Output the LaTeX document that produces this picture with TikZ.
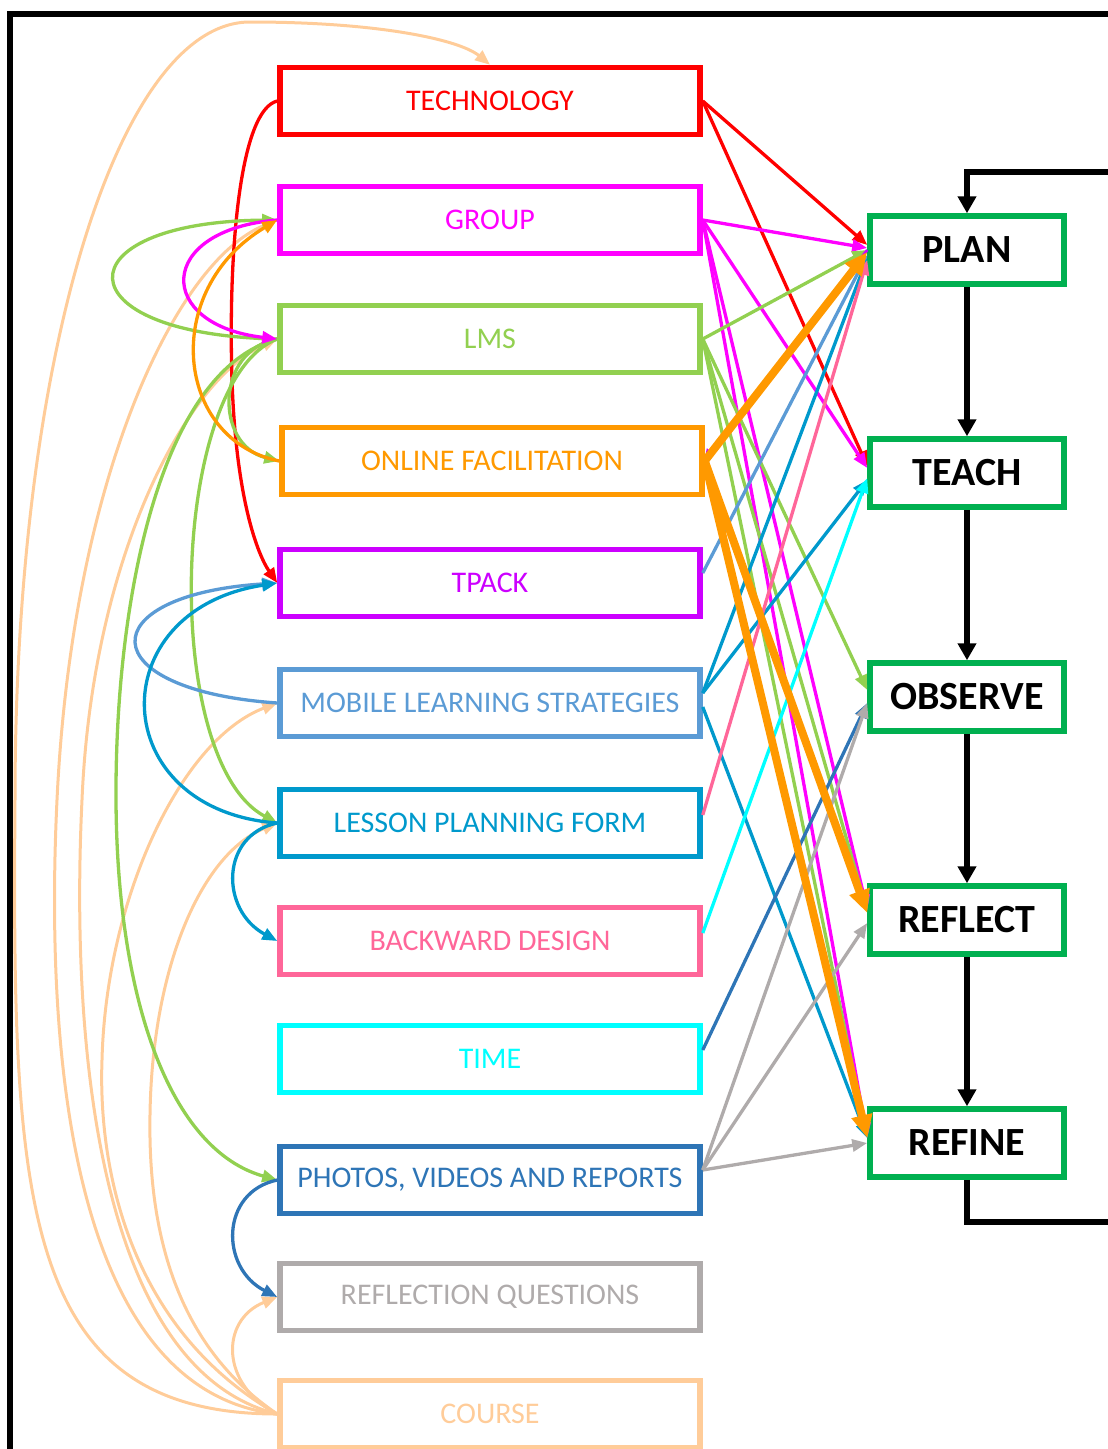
\documentclass[tikz,border=0pt]{standalone}
\usepackage{fontspec}
\setmainfont{Carlito}
\usetikzlibrary{arrows.meta}

\definecolor{cTech}{HTML}{FF0000}
\definecolor{cGroup}{HTML}{FF00FF}
\definecolor{cLms}{HTML}{92D050}
\definecolor{cOnline}{HTML}{FF9900}
\definecolor{cTpack}{HTML}{CC00FF}
\definecolor{cMobile}{HTML}{5B9BD5}
\definecolor{cLesson}{HTML}{0099CC}
\definecolor{cBackward}{HTML}{FF6699}
\definecolor{cTime}{HTML}{00FFFF}
\definecolor{cPhotos}{HTML}{2E75B6}
\definecolor{cReflq}{HTML}{AFABAB}
\definecolor{cCourse}{HTML}{FFCC99}
\definecolor{cStage}{HTML}{00B050}

\tikzset{
  factor/.style={draw, line width=5.5pt, minimum width=420pt, minimum height=67pt,
    inner sep=0pt, font=\fontsize{30}{33}\selectfont},
  stage/.style={draw=cStage, line width=5.5pt, minimum width=194pt, minimum height=68pt,
    inner sep=0pt, font=\fontsize{40}{42}\selectfont\bfseries},
  curve/.style={line width=3.3pt, -{Triangle[length=15pt,width=12pt]}},
  link/.style={line width=3.3pt, -{Triangle[length=15pt,width=12pt]}},
  heavylink/.style={line width=8pt, -{Triangle[length=23pt,width=20pt]}},
  cyclearrow/.style={line width=5.5pt, -{Triangle[length=17pt,width=18pt]}},
}

\begin{document}
\begin{tikzpicture}[x=1pt,y=-1pt]
\useasboundingbox (0,0) rectangle (1108,1449);
\clip (0,0) rectangle (1108,1449);

% outer frame
\draw[line width=6pt] (10,1500) -- (10,14) -- (1150,14);

% factor boxes
\node[factor, draw=cTech, text=cTech]         (tech)     at (490,101)  {TECHNOLOGY};
\node[factor, draw=cGroup, text=cGroup]       (group)    at (490,220)  {GROUP};
\node[factor, draw=cLms, text=cLms]           (lms)      at (490,339)  {LMS};
\node[factor, draw=cOnline, text=cOnline]     (online)   at (492,461)  {ONLINE FACILITATION};
\node[factor, draw=cTpack, text=cTpack]       (tpack)    at (490,583)  {TPACK};
\node[factor, draw=cMobile, text=cMobile]     (mobile)   at (490,703)  {MOBILE LEARNING STRATEGIES};
\node[factor, draw=cLesson, text=cLesson]     (lesson)   at (490,823)  {LESSON PLANNING FORM};
\node[factor, draw=cBackward, text=cBackward] (backward) at (490,941)  {BACKWARD DESIGN};
\node[factor, draw=cTime, text=cTime]         (time)     at (490,1059) {TIME};
\node[factor, draw=cPhotos, text=cPhotos]     (photos)   at (490,1180) {PHOTOS, VIDEOS AND REPORTS};
\node[factor, draw=cReflq, text=cReflq]       (reflq)    at (490,1297) {REFLECTION QUESTIONS};
\node[factor, draw=cCourse, text=cCourse]     (course)   at (490,1414) {COURSE};

% cycle stages
\node[stage] (plan)    at (967,250)  {PLAN};
\node[stage] (teach)   at (967,473)  {TEACH};
\node[stage] (observe) at (967,697)  {OBSERVE};
\node[stage] (reflect) at (967,920)  {REFLECT};
\node[stage] (refine)  at (967,1143) {REFINE};

% cycle arrows
\draw[cyclearrow] (plan) -- (teach);
\draw[cyclearrow] (teach) -- (observe);
\draw[cyclearrow] (observe) -- (reflect);
\draw[cyclearrow] (reflect) -- (refine);
\draw[cyclearrow] (refine.south) |- (1130,1222) |- (967,172) -- (plan.north);

% curved links on the left: from COURSE
\draw[curve, cCourse, line width=3pt] (course.west) .. controls (20,1414) and (12,1200) .. (15,800)
  .. controls (15,350) and (120,22) .. (250,22) .. controls (380,22) and (460,40) .. (tech.north);
\draw[curve, cCourse, line width=3pt] (course.west) .. controls (70,1390) and (45,1050) .. (57,800)
  .. controls (72,480) and (175,262) .. (group.west);
\draw[curve, cCourse, line width=3pt] (course.west) .. controls (100,1370) and (70,1050) .. (82,800)
  .. controls (92,560) and (185,380) .. (lms.west);
\draw[curve, cCourse, line width=3pt] (course.west) .. controls (130,1330) and (98,1170) .. (102,1060)
  .. controls (106,900) and (180,740) .. (mobile.west);
\draw[curve, cCourse, line width=3pt] (course.west) .. controls (175,1345) and (148,1230) .. (150,1115)
  .. controls (152,970) and (200,855) .. (lesson.west);
\draw[curve, cCourse, line width=3pt] (course.west) .. controls (220,1385) and (220,1320) .. (reflq.west);

% curved links on the left: between factors
\draw[curve, cTech] (tech.west) .. controls (240,110) and (228,250) .. (232,380)
  .. controls (236,500) and (258,555) .. (tpack.west);
\draw[curve, cLms] (lms.west) .. controls (60,335) and (60,222) .. (group.west);
\draw[curve, cLms] (lms.west) .. controls (215,350) and (215,445) .. (online.west);
\draw[curve, cLms] (lms.west) .. controls (170,380) and (160,760) .. (lesson.west);
\draw[curve, cLms] (lms.west) .. controls (160,370) and (115,600) .. (116,800)
  .. controls (117,1000) and (170,1150) .. (photos.west);
\draw[curve, cGroup] (group.west) .. controls (155,230) and (155,325) .. (lms.west);
\draw[curve, cOnline] (online.west) .. controls (175,440) and (160,290) .. (group.west);
\draw[curve, cMobile] (mobile.west) .. controls (90,690) and (90,595) .. (tpack.west);
\draw[curve, cLesson] (lesson.west) .. controls (105,810) and (100,610) .. (tpack.west);
\draw[curve, cLesson] (lesson.west) .. controls (220,835) and (220,910) .. (backward.west);
\draw[curve, cPhotos] (photos.west) .. controls (220,1192) and (220,1268) .. (reflq.west);

% straight links into the cycle
\draw[link, cTech] (tech.east) -- ([yshift=5pt]plan.west);
\draw[link, cTech] (tech.east) -- ([yshift=7pt]teach.west);

\draw[link, cGroup] (group.east) -- ([yshift=2pt]plan.west);
\draw[link, cGroup] (group.east) -- ([yshift=5pt]teach.west);
\draw[link, cGroup] (group.east) -- ([yshift=10pt]reflect.west);
\draw[link, cGroup] (group.east) -- ([yshift=5pt]refine.west);

\draw[link, cLms] (lms.east) -- (plan.west);
\draw[link, cLms] (lms.east) -- ([yshift=7pt]observe.west);
\draw[link, cLms] (lms.east) -- ([yshift=9pt]reflect.west);
\draw[link, cLms] (lms.east) -- ([yshift=5pt]refine.west);

\draw[cTpack, line width=2.8pt, {Triangle[length=9pt,width=8pt]}-] ([yshift=3pt]online.east) -- (plan.west);
\draw[link, cMobile] ([yshift=10pt]tpack.east) -- ([yshift=-5pt]plan.west);
\draw[link, cLesson] ([yshift=10pt]mobile.east) -- ([yshift=-8pt]plan.west);
\draw[link, cLesson] ([yshift=10pt]mobile.east) -- ([yshift=-7pt]teach.west);
\draw[link, cLesson] ([yshift=-4pt]mobile.east) -- ([yshift=5pt]refine.west);
\draw[link, cBackward] ([yshift=8pt]lesson.east) -- ([yshift=-10pt]plan.west);
\draw[link, cTime] ([yshift=8pt]backward.east) -- ([yshift=-5pt]teach.west);
\draw[link, cPhotos] ([yshift=9pt]time.east) -- ([yshift=-6pt]observe.west);

\draw[link, cReflq] ([yshift=10pt]photos.east) -- ([yshift=-6pt]observe.west);
\draw[link, cReflq] ([yshift=10pt]photos.east) -- ([yshift=-3pt]reflect.west);
\draw[link, cReflq] ([yshift=10pt]photos.east) -- (refine.west);

\draw[heavylink, cOnline] (online.east) -- ([yshift=-2pt]plan.west);
\draw[heavylink, cOnline] (online.east) -- ([yshift=7pt]reflect.west);
\draw[heavylink, cOnline] (online.east) -- ([yshift=5pt]refine.west);
\end{tikzpicture}
\end{document}
